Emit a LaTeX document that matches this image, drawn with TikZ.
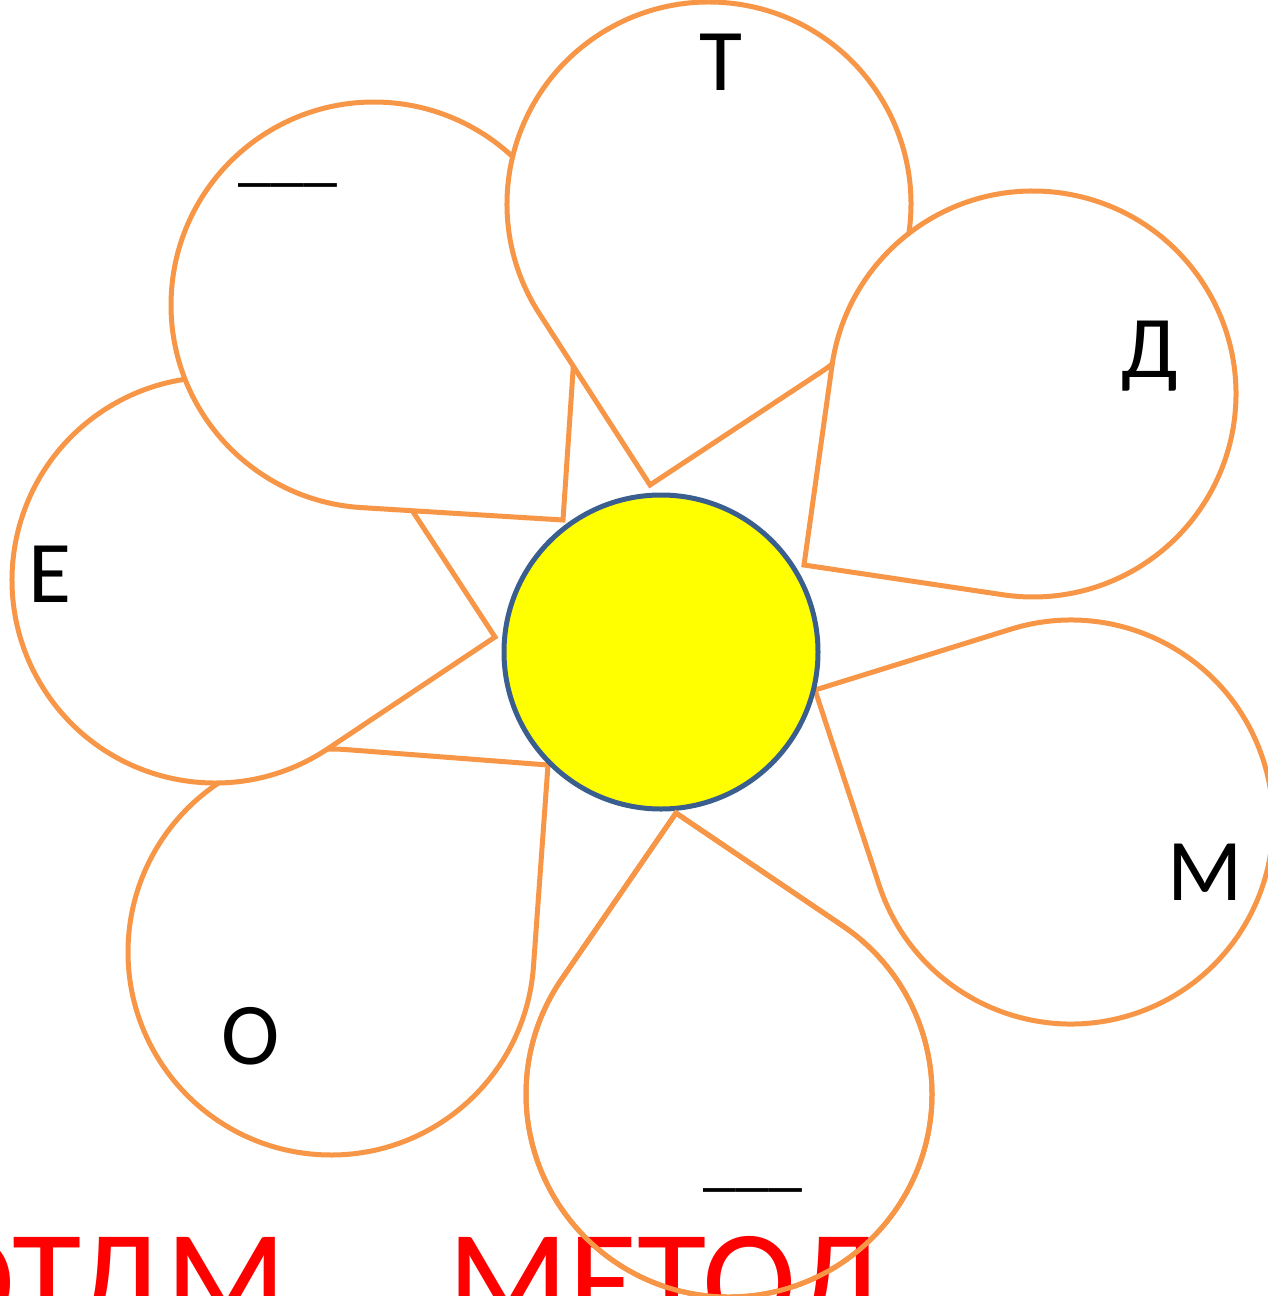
\documentclass[tikz,border=0pt]{standalone}
\usepackage{fontspec}
\setmainfont{Carlito}
\definecolor{petalorange}{HTML}{F79646}
\definecolor{centreblue}{HTML}{3A5F8E}
\definecolor{centreyellow}{HTML}{FFFF00}
\definecolor{titlered}{HTML}{FF0000}
% #1 cx, #2 cy, #3 r, #4 tip x, #5 tip y, #6 path options
\newcommand\mypetal[6]{%
  \pgfmathsetmacro\pd{veclen(#4-#1,#5-#2)}%
  \pgfmathsetmacro\pth{atan2(#5-#2,#4-#1)}%
  \pgfmathsetmacro\pal{acos(#3/\pd)}%
  \pgfmathsetmacro\pa{\pth+\pal}%
  \pgfmathsetmacro\pb{\pth-\pal+360}%
  \pgfmathsetmacro\tx{#1+#3*cos(\pa)}%
  \pgfmathsetmacro\ty{#2+#3*sin(\pa)}%
  \path[#6] (#4,#5) -- (\tx,\ty) arc[start angle=\pa, end angle=\pb, radius=#3] -- cycle;%
}
\tikzset{
  petal/.style={fill=white, draw=petalorange, line width=5pt, line join=miter},
  petaledge/.style={draw=petalorange, line width=5pt, line join=miter},
  letter/.style={inner sep=0pt, anchor=base, font=\fontsize{88}{100}\selectfont},
  blank/.style={inner sep=0pt, anchor=base, font=\fontsize{66}{80}\selectfont},
  titletext/.style={inner sep=0pt, text=titlered, font=\fontsize{142}{160}\selectfont}
}
\begin{document}
\begin{tikzpicture}[x=1pt,y=-1pt]
\useasboundingbox (0,0) rectangle (1268,1296);
\clip (0,0) rectangle (1268,1296);
% petals, lowest first
\mypetal{331}{952}{203}{548}{765}{petal}
\mypetal{215}{580}{203}{495}{637}{petal}
\mypetal{374}{305}{203}{563}{520}{petal}
\mypetal{709}{204}{202}{650}{485}{petal}
\mypetal{1033}{394}{203}{804}{565}{petal}
\mypetal{1071}{822}{202}{815}{690}{petal}
\mypetal{729}{1094}{203}{676}{813}{petal}
% centre
\path[fill=centreyellow, draw=centreblue, line width=5pt] (661,652) circle[radius=157];
% letters
\node[letter] (lT) at (721,90) {Т};
\node[letter] (lD) at (1150,377) {Д};
\node[letter] (lM) at (1205,900) {М};
\node[letter] (lE) at (50,602) {Е};
\node[letter] (lO) at (251,1064) {О};
\node[blank] (bUL) at (288,178) {\_\_\_};
\node[blank] (bB) at (753,1183) {\_\_\_};
% title
\node[titletext, anchor=base east] (titleA) at (287,1328) {ОТДМ};
\node[titletext, anchor=base west] (titleB) at (447,1328) {МЕТОД};
% bottom petal outline over the title
\mypetal{729}{1094}{203}{676}{813}{petaledge}
\end{tikzpicture}
\end{document}
